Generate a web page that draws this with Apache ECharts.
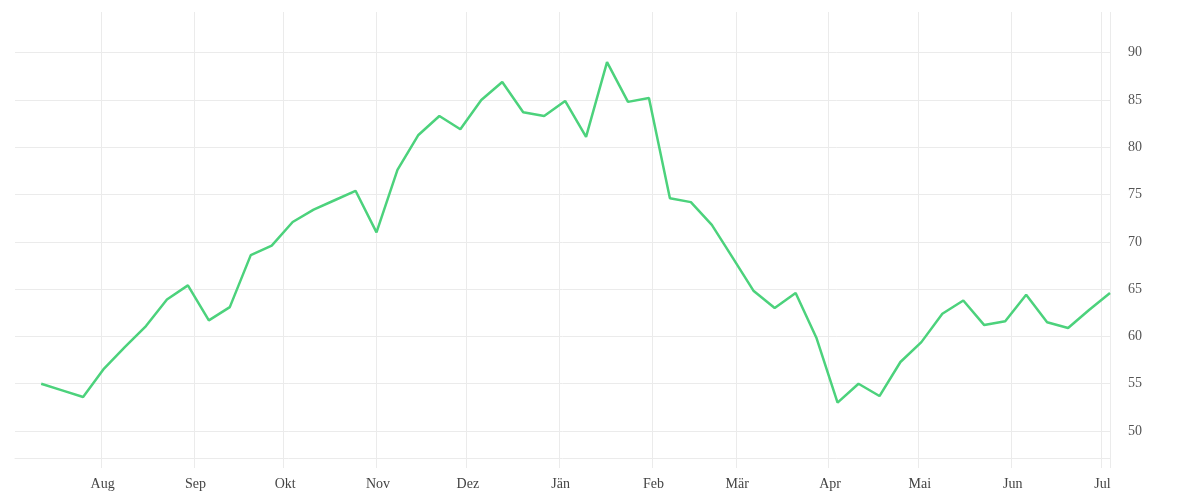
<!DOCTYPE html>
<html>
<head>
<meta charset="utf-8">
<script src="https://cdn.jsdelivr.net/npm/echarts@6/dist/echarts.min.js"></script>
<style>html,body{margin:0;padding:0;background:#fff}#c{width:1200px;height:500px}</style>
</head>
<body>
<div id="c"></div>
<script>
var dates = ['2018-07-12','2018-07-19','2018-07-26','2018-08-02','2018-08-09','2018-08-16','2018-08-23','2018-08-30',
 '2018-09-06','2018-09-13','2018-09-20','2018-09-27','2018-10-04','2018-10-11','2018-10-18','2018-10-25',
 '2018-11-01','2018-11-08','2018-11-15','2018-11-22','2018-11-29','2018-12-06','2018-12-13','2018-12-20','2018-12-27',
 '2019-01-03','2019-01-10','2019-01-17','2019-01-24','2019-01-31','2019-02-07','2019-02-14','2019-02-21','2019-02-28',
 '2019-03-07','2019-03-14','2019-03-21','2019-03-28','2019-04-04','2019-04-11','2019-04-18','2019-04-25',
 '2019-05-02','2019-05-09','2019-05-16','2019-05-23','2019-05-30','2019-06-06','2019-06-13','2019-06-20','2019-06-27','2019-07-04'];
var values = [55.0,54.3,53.6,56.6,58.9,61.1,63.9,65.4,
 61.7,63.1,68.6,69.6,72.1,73.4,74.4,75.4,
 71.0,77.6,81.3,83.3,81.9,85.0,86.9,83.7,83.3,
 84.9,81.1,89.0,84.8,85.2,74.6,74.2,71.8,68.3,
 64.8,63.0,64.6,59.8,53.0,55.0,53.7,57.3,
 59.4,62.4,63.8,61.2,61.6,64.4,61.5,60.9,62.8,64.6];
var monthStarts = ['2018-08-01','2018-09-01','2018-10-01','2018-11-01','2018-12-01','2019-01-01',
 '2019-02-01','2019-03-01','2019-04-01','2019-05-01','2019-06-01','2019-07-01'];
var monthLabels = ['Aug','Sep','Okt','Nov','Dez','Jän','Feb','Mär','Apr','Mai','Jun','Jul'];
var yTicks = [50,55,60,65,70,75,80,85,90];
var xMin = '2018-07-03T06:00:00';
var xMax = '2019-07-04T00:00:00';

function ts(s){ return new Date(s + (s.length === 10 ? 'T00:00:00' : '')).getTime(); }
var monthTs = monthStarts.map(ts);
var labelMap = {};
monthTs.forEach(function(t,i){ labelMap[t] = monthLabels[i]; });

var chart = echarts.init(document.getElementById('c'), null, {renderer:'canvas'});
chart.setOption({
  animation: false,
  backgroundColor: '#fff',
  grid: {left: 15, right: 90, top: 12, bottom: 42, containLabel: false},
  xAxis: {
    type: 'value',
    min: ts(xMin), max: ts(xMax),
    axisLine: {show: true, lineStyle: {color: '#ebebeb', width: 1}},
    axisTick: {show: true, length: 10, lineStyle: {color: '#ebebeb'}, customValues: monthTs.concat([ts(xMax)])},
    splitLine: {show: true, lineStyle: {color: '#ebebeb', width: 1}},
    axisLabel: {
      customValues: monthTs,
      margin: 19,
      color: '#444',
      fontFamily: 'Liberation Serif',
      fontSize: 14,
      padding: [0, 0, 0, 3],
      formatter: function(v){ return labelMap[v] || ''; }
    }
  },
  yAxis: {
    type: 'value',
    position: 'right',
    min: 47.15, max: 94.3,
    axisLine: {show: false},
    axisTick: {show: false, customValues: yTicks},
    splitLine: {show: true, lineStyle: {color: '#ebebeb', width: 1}},
    axisLabel: {customValues: yTicks, margin: 18, color: '#555', fontFamily: 'Liberation Serif', fontSize: 14, verticalAlign: 'middle', padding: [7, 0, 0, 0]}
  },
  series: [{
    type: 'line',
    data: dates.map(function(d,i){ return [ts(d), values[i]]; }),
    showSymbol: false,
    lineStyle: {color: '#4cd27c', width: 2.5},
    itemStyle: {color: '#4cd27c'}
  }]
});
</script>
</body>
</html>
